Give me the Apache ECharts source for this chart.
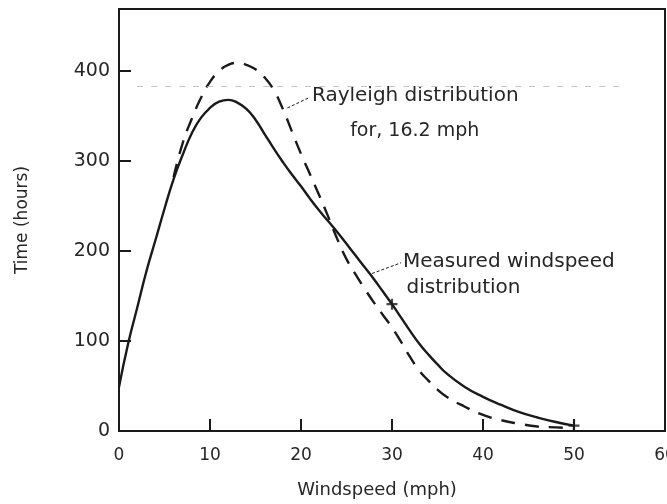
<!DOCTYPE html>
<html>
<head>
<meta charset="utf-8" />
<script src="https://cdn.jsdelivr.net/npm/echarts@6/dist/echarts.min.js"></script>
<title>windspeed</title>
</head>
<body style="margin:0;background:#fff;">
<div id="main" style="width:667px; height:504px;"></div>
<script type="text/javascript">
// measured windspeed distribution (solid)
const speedMeasured = [0, 1, 2, 3, 4, 5, 6, 7, 8, 9, 10, 11, 12, 13, 14, 15, 16, 17, 18, 19,
    20, 21, 22, 23, 24, 25, 26, 27, 28, 29, 30, 31, 32, 33, 34, 35, 36, 38, 40, 42, 44, 46, 48, 50];
const hoursMeasured = [49, 97, 137, 177, 212, 247, 280, 307, 331, 348, 359, 366, 368, 365, 358, 346, 330, 314, 299, 285,
    272, 258, 245, 233, 221, 208, 195, 182, 169, 155, 141, 126, 111, 97, 85, 74, 64, 49, 38, 29, 21, 15, 10, 6];

// Rayleigh distribution for 16.2 mph (dashed)
const speedRayleigh = [6, 7, 8, 9, 10, 11, 12, 13, 14, 15, 16, 17, 18, 19, 20, 21, 22, 23, 24, 25,
    26, 27, 28, 29, 30, 31, 32, 33, 34, 35, 36, 38, 40, 42, 44, 46, 48, 50];
const hoursRayleigh = [282, 320, 347, 370, 388, 400, 407, 409, 407, 402, 393, 379, 358, 333, 308, 285, 262, 238, 213, 191,
    174, 158, 143, 129, 115, 99, 82, 67, 56, 46, 38, 27, 18, 12, 8, 5, 4, 3];

// small cross marks on the measured curve
const markSpeed = [30, 50];
const markHours = [141, 6];

const xTicks = [0, 10, 20, 30, 40, 50, 60];
const yTicks = [0, 100, 200, 300, 400];

const ink = '#1a1a1a';
const textInk = '#262626';
const font = 'DejaVu Sans';

function pairs(xs, ys) {
    return xs.map(function (x, i) { return [x, ys[i]]; });
}

let myChart = echarts.init(document.getElementById('main'));

option = {
    backgroundColor: '#fff',
    animation: false,
    grid: {
        left: 119, right: 2, top: 9, bottom: 73,
        containLabel: false,
        outerBoundsMode: 'none',
        show: true,
        borderColor: ink,
        borderWidth: 2
    },
    xAxis: {
        type: 'value',
        min: xTicks[0],
        max: xTicks[xTicks.length - 1],
        interval: 10,
        name: 'Windspeed (mph)',
        nameLocation: 'middle',
        nameGap: 50,
        nameTextStyle: { fontFamily: font, fontSize: 18, color: textInk, padding: [0, 30, 0, 0] },
        axisLine: { lineStyle: { color: ink, width: 2 } },
        axisTick: { inside: true, length: 12, lineStyle: { color: ink, width: 2 } },
        axisLabel: { fontFamily: font, fontSize: 17, color: textInk, margin: 16 },
        splitLine: { show: false }
    },
    yAxis: {
        type: 'value',
        min: yTicks[0],
        max: 469,
        interval: 100,
        name: 'Time (hours)',
        nameLocation: 'middle',
        nameGap: 88,
        nameTextStyle: { fontFamily: font, fontSize: 17, color: textInk },
        axisLine: { lineStyle: { color: ink, width: 2 } },
        axisTick: { inside: true, length: 12, lineStyle: { color: ink, width: 2 } },
        axisLabel: {
            fontFamily: font, fontSize: 19, color: textInk, margin: 9,
            formatter: function (v) { return yTicks.indexOf(v) >= 0 ? String(v) : ''; }
        },
        splitLine: { show: false }
    },
    series: [{
        name: 'Measured',
        type: 'line',
        data: pairs(speedMeasured, hoursMeasured),
        smooth: 0.5,
        showSymbol: false,
        lineStyle: { color: ink, width: 2.4 },
        markLine: {
            silent: true,
            symbol: 'none',
            label: { show: false },
            lineStyle: { color: '#c4c4c4', type: [6, 8], width: 1 },
            data: [[{ coord: [2, 383] }, { coord: [55, 383] }]]
        }
    }, {
        name: 'Rayleigh',
        type: 'line',
        data: pairs(speedRayleigh, hoursRayleigh),
        smooth: 0.5,
        showSymbol: false,
        lineStyle: { color: ink, width: 2.4, type: [14, 10] }
    }, {
        name: 'marks',
        type: 'scatter',
        data: pairs(markSpeed, markHours),
        symbol: 'path://M4,0H6V4H10V6H6V10H4V6H0V4H4Z',
        symbolSize: 11,
        itemStyle: { color: ink }
    }]
};
myChart.setOption(option);

// annotations anchored in data space
function px(x, y) { return myChart.convertToPixel({ gridIndex: 0 }, [x, y]); }
function label(x, y, text, size) {
    let p = px(x, y);
    return {
        type: 'text', x: p[0], y: p[1], silent: true,
        style: { text: text, fill: textInk, font: size + 'px "' + font + '"', verticalAlign: 'middle', align: 'left' }
    };
}
function leader(x1, y1, x2, y2) {
    let a = px(x1, y1), b = px(x2, y2);
    return {
        type: 'line', silent: true,
        shape: { x1: a[0], y1: a[1], x2: b[0], y2: b[1] },
        style: { stroke: ink, lineWidth: 1, lineDash: [3, 2] }
    };
}
myChart.setOption({
    graphic: [
        label(21.2, 372, 'Rayleigh distribution', 20),
        label(25.4, 333, 'for, 16.2 mph', 19),
        leader(18.5, 359, 21.0, 371),
        label(31.2, 188, 'Measured windspeed', 20),
        label(31.6, 159, 'distribution', 20),
        leader(27.8, 175, 31.0, 187)
    ]
});
</script>
</body>
</html>
